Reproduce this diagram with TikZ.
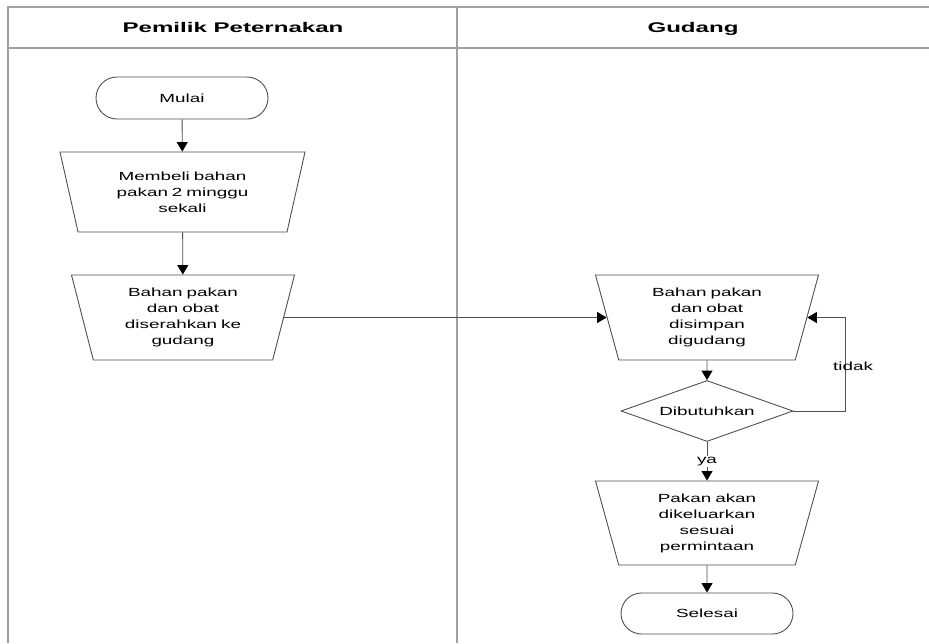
\documentclass[tikz,border=0pt]{standalone}
\usepackage{fontspec}
\setmainfont{Liberation Sans}[FakeStretch=1.6]
\newfontfamily\hdrfont{Liberation Sans}[FakeStretch=1.72]
\usetikzlibrary{shapes.geometric,shapes.misc,arrows.meta}
\definecolor{linegray}{HTML}{505050}
\definecolor{framegray}{HTML}{A0A0A0}
\tikzset{
  base/.style={draw=linegray, line width=0.9pt, align=center, inner sep=0pt,
    font=\fontsize{11.8}{16}\selectfont},
  term/.style={base, rounded rectangle, minimum width=172pt, minimum height=42pt},
  proc/.style={base, trapezium, shape border rotate=180, trapezium stretches body=true,
    text width=140pt, execute at begin node={\setlength{\baselineskip}{16pt}}},
  dec/.style={base, diamond, minimum width=172pt, minimum height=61pt, aspect=2.8},
  arr/.style={draw=linegray, line width=0.9pt, -{Triangle[width=11pt,length=9.5pt,color=black]}},
  frame/.style={draw=framegray, line width=1.6pt},
  hdr/.style={font=\hdrfont\bfseries\fontsize{14}{16}\selectfont, anchor=base},
  lbl/.style={font=\fontsize{11.8}{16}\selectfont, inner sep=1pt}
}
\begin{document}
\begin{tikzpicture}[x=1pt,y=-1pt]
\useasboundingbox (0,0) rectangle (929,643);
% swimlane frame
\draw[frame] (8,643) -- (8,7) -- (929,7);
\draw[frame] (8,48) -- (929,48);
\draw[frame] (457,7) -- (457,643);
\node[hdr] (h1) at (233,32) {Pemilik Peternakan};
\node[hdr] (h2) at (693,32) {Gudang};
% left lane
\node[term] (mulai) at (182,98) {Mulai};
\node[proc, minimum width=245pt, minimum height=80pt, trapezium angle=66.1] (t1) at (182.5,192)
  {Membeli bahan\\pakan 2 minggu\\sekali};
\node[proc, minimum width=223pt, minimum height=85pt, trapezium angle=69.7] (t2) at (183,317.5)
  {Bahan pakan\\dan obat\\diserahkan ke\\gudang};
% right lane
\node[proc, minimum width=223pt, minimum height=85pt, trapezium angle=68.5] (t3) at (707,317.5)
  {Bahan pakan\\dan obat\\disimpan\\digudang};
\node[dec] (dib) at (707,411) {Dibutuhkan};
\node[proc, minimum width=223pt, minimum height=84pt, trapezium angle=68.5] (t4) at (707,523)
  {Pakan akan\\dikeluarkan\\sesuai\\permintaan};
\node[term, minimum height=41pt] (sel) at (707,613.5) {Selesai};
% connectors
\draw[arr] (mulai) -- (t1);
\draw[arr] (t1) -- (t2);
\draw[arr] (t2) -- (t3);
\draw[arr] (t3) -- (dib);
\draw[arr] (dib) -- node[lbl, fill=white] (ya) {ya} (t4);
\draw[arr] (t4) -- (sel);
\coordinate (loop) at (845,411);
\draw[arr] (dib.east) -- (loop) |- (t3);
\node[lbl] (tidak) at (853,366) {tidak};
\end{tikzpicture}
\end{document}
